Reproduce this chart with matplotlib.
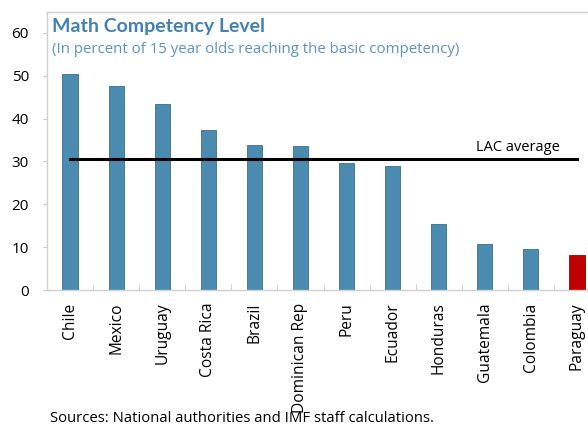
import matplotlib
matplotlib.use("Agg")
import matplotlib.pyplot as plt
import numpy as np

countries = ["Chile", "Mexico", "Uruguay", "Costa Rica", "Brazil", "Dominican Rep",
             "Peru", "Ecuador", "Honduras", "Guatemala", "Colombia", "Paraguay"]
values = [50.4, 47.6, 43.4, 37.4, 33.9, 33.6, 29.6, 29.0, 15.4, 10.7, 9.6, 8.2]
lac_average = 30.6
yticks = [0, 10, 20, 30, 40, 50, 60]

plt.rcParams['font.family'] = ['Open Sans', 'DejaVu Sans']

W, H = 588, 425
fig = plt.figure(figsize=(W / 100, H / 100), dpi=100)
L, R, T, B = 47, 600, 12, 290
ax = fig.add_axes([L / W, (H - B) / H, (R - L) / W, (B - T) / H])

x = np.arange(len(countries))
colors = ["#4A8BAF"] * (len(countries) - 1) + ["#C00000"]
edges = ["#3A6F8C"] * (len(countries) - 1) + ["#9A0000"]
ax.bar(x, values, width=0.33, color=colors, edgecolor=edges, linewidth=0.6, zorder=2)
ax.plot([x[0], x[-1]], [lac_average, lac_average], color="black", lw=2.2, zorder=3)
ax.text(9.72, 33.2, "LAC average", fontsize=10.5, ha="center", va="center")

ax.set_xlim(-0.5, len(countries) - 0.5)
ax.set_ylim(0, 64.9)
ax.set_yticks(yticks)
ax.set_yticklabels([str(v) for v in yticks], fontsize=11)
ax.set_xticks(x)
ax.set_xticklabels(countries, rotation=90, fontsize=11.2)
ax.tick_params(axis="x", length=0, pad=9)
ax.set_xticks(np.arange(len(countries) + 1) - 0.5, minor=True)
ax.tick_params(axis="x", which="minor", direction="in", length=4, color="#C8C8C8")
ax.tick_params(axis="y", direction="out", length=3, color="#C8C8C8", pad=10)

for s in ["left", "top", "bottom"]:
    ax.spines[s].set_color("#D0D0D0")
    ax.spines[s].set_linewidth(1.0)
ax.spines["right"].set_visible(False)

fig.text(52 / W, 1 - 18 / H, "Math Competency Level", fontsize=14, fontweight="bold",
         color="#4281B4", va="top", ha="left", family=["Lato", "DejaVu Sans"])
fig.text(52 / W, 1 - 42 / H, "(In percent of 15 year olds reaching the basic competency)",
         fontsize=10.8, color="#5B93C4", va="top", ha="left")
fig.text(50 / W, 1 - 418 / H, "Sources: National authorities and IMF staff calculations.",
         fontsize=10.7, va="center", ha="left")

fig.savefig("out.png", dpi=100)
